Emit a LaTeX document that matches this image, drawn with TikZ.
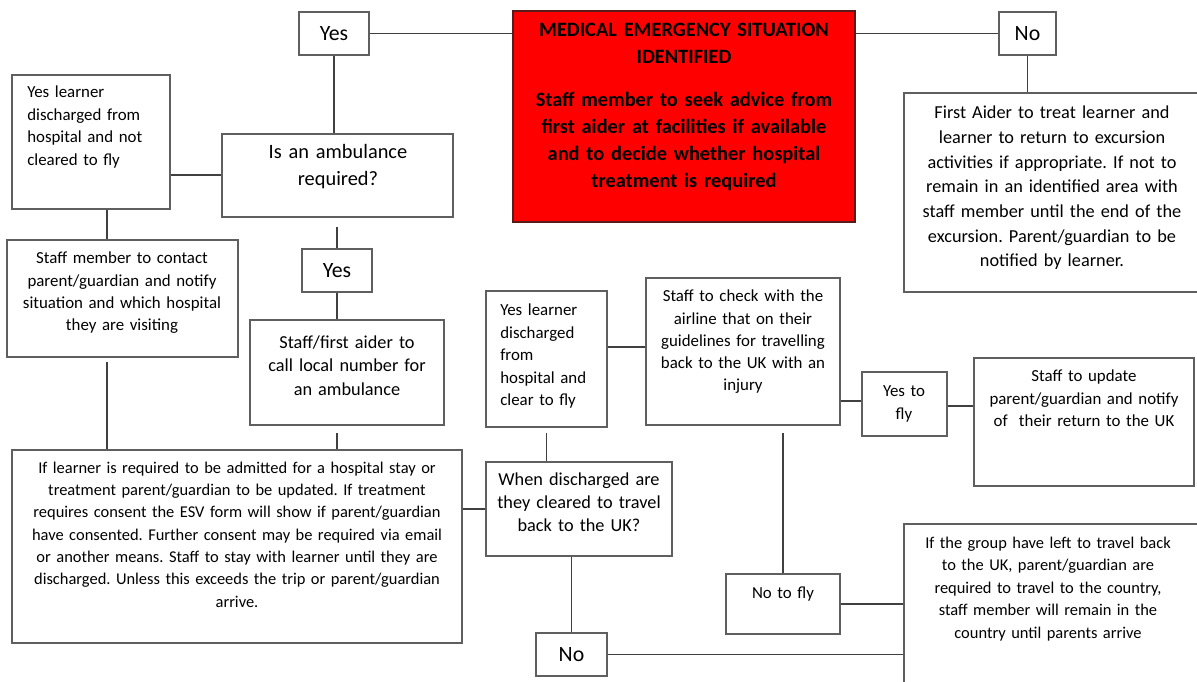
\documentclass[tikz,border=0pt]{standalone}
\usepackage{fontspec}
\setmainfont{Carlito}
\usetikzlibrary{fit}
\definecolor{boxgray}{HTML}{5F5F5F}
\definecolor{linegray}{HTML}{404040}
\definecolor{alertred}{HTML}{FF0000}
\definecolor{alertedge}{HTML}{5A1A1A}
\frenchspacing

\begin{document}
\begin{tikzpicture}[x=0.025cm, y=-0.025cm,
    box/.style={draw=boxgray, line width=1.4pt, inner sep=0pt},
    txt/.style={align=center, inner sep=0pt, anchor=base, font=\fontsize{12}{15.8}\selectfont},
    ltxt/.style={align=left, inner sep=0pt, anchor=base west, font=\fontsize{12}{16}\selectfont},
    word/.style={font=\fontsize{15.5}{18}\selectfont},
    link/.style={draw=linegray, line width=1.1pt}]
  \useasboundingbox (0,0) rectangle (1197,682);

  % top row
  \node[box, fit={(299,12) (369,55)}] (yes1) {};
  \node[word] (yes1-t) at (yes1.center) {Yes};
  \node[box, draw=alertedge, fill=alertred, fit={(513,11) (855,222)}] (emerg) {};
  \node[txt, text width=8.55cm, font=\bfseries\fontsize{14.5}{19.2}\selectfont] (emerg-t) at (684,37)
    {MEDICAL EMERGENCY SITUATION\\IDENTIFIED};
  \node[txt, text width=8.55cm, font=\bfseries\fontsize{14.5}{19.2}\selectfont] (emerg-b) at (684,107)
    {Staff member to seek advice from\\first aider at facilities if available\\and to decide whether hospital\\treatment is required};
  \node[box, fit={(999,12) (1056,55)}] (no1) {};
  \node[word] (no1-t) at (no1.center) {No};
  \node[box, fit={(904,93) (1202,292)}] (firstaid) {};
  \node[txt, text width=7.5cm, font=\fontsize{13}{17.5}\selectfont] (firstaid-t) at (1052,119)
    {First Aider to treat learner and\\learner to return to excursion\\activities if appropriate.  If not to\\remain in an identified area with\\staff member until the end of the\\excursion. Parent/guardian to be\\notified by learner.};

  % left column
  \node[box, fit={(12,75) (170,209)}] (notclr) {};
  \node[ltxt, text width=3.6cm, font=\fontsize{12}{15.9}\selectfont] (notclr-t) at (27,98)
    {Yes learner\\discharged from\\hospital and not\\cleared to fly};
  \node[box, fit={(222,134) (453,217)}] (ambul) {};
  \node[txt, text width=5.8cm, font=\fontsize{14.5}{19.2}\selectfont] (ambul-t) at (338,159)
    {Is an ambulance\\required?};
  \node[box, fit={(7,240) (238,357)}] (contact) {};
  \node[txt, text width=5.8cm] (contact-t) at (122,264)
    {Staff member to contact\\parent/guardian and notify\\situation and which hospital\\they are visiting};
  \node[box, fit={(302,249) (372,292)}] (yes2) {};
  \node[word] (yes2-t) at (yes2.center) {Yes};
  \node[box, fit={(250,320) (444,425)}] (call) {};
  \node[txt, text width=5cm, font=\fontsize{13}{16.8}\selectfont] (call-t) at (347,348)
    {Staff/first aider to\\call local number for\\an ambulance};
  \node[box, fit={(12,450) (462,643)}] (admit) {};
  \node[txt, text width=11.4cm, font=\fontsize{11.7}{15.9}\selectfont] (admit-t) at (237,473)
    {If learner is required to be admitted for a hospital stay or\\treatment parent/guardian to be updated. If treatment\\requires consent the ESV form will show if parent/guardian\\have consented.  Further consent may be required via email\\or another means. Staff to stay with learner until they are\\discharged. Unless this exceeds the trip or parent/guardian\\arrive.};

  % middle and right
  \node[box, fit={(486,291) (607,427)}] (clear) {};
  \node[ltxt, text width=2.6cm] (clear-t) at (500,316)
    {Yes learner\\discharged\\from\\hospital and\\clear to fly};
  \node[box, fit={(646,278) (840,425)}] (airline) {};
  \node[txt, text width=5cm] (airline-t) at (743,302)
    {Staff to check with the\\airline that on their\\guidelines for travelling\\back to the UK with an\\injury};
  \node[box, fit={(862,372) (947,436)}] (yesfly) {};
  \node[txt, text width=2.2cm, font=\fontsize{12}{17}\selectfont] (yesfly-t) at (904,396)
    {Yes to\\fly};
  \node[box, fit={(974,358) (1194,486)}] (update) {};
  \node[txt, text width=5.6cm] (update-t) at (1084,382)
    {Staff to update\\parent/guardian and notify\\of~~their return to the UK};
  \node[box, fit={(486,462) (672,556)}] (when) {};
  \node[txt, text width=4.8cm, font=\fontsize{13}{16.5}\selectfont] (when-t) at (579,485)
    {When discharged are\\they cleared to travel\\back to the UK?};
  \node[box, fit={(726,574) (840,634)}] (nofly) {};
  \node[txt, text width=2.9cm] (nofly-t) at (783,598) {No to fly};
  \node[box, fit={(904,524) (1202,700)}] (group) {};
  \node[txt, text width=7.5cm, font=\fontsize{11.7}{16}\selectfont] (group-t) at (1048,548)
    {If the group have left to travel back\\to the UK, parent/guardian are\\required to travel to the country,\\staff member will remain in the\\country until parents arrive};
  \node[box, fit={(536,633) (607,676)}] (nob) {};
  \node[word] (nob-t) at (nob.center) {No};

  % connectors
  \draw[link]
    (yes1.east) -- (yes1.east -| emerg.west)
    (no1.west -| emerg.east) -- (no1.west)
    (no1.south) -- (no1.south |- firstaid.north)
    (yes1.south) -- (yes1.south |- ambul.north)
    (notclr.east |- 0,175) -- (ambul.west |- 0,175)
    (yes2.south) -- (yes2.south |- call.north)
    (notclr.south -| 107,0) -- (contact.north -| 107,0)
    (admit.east |- 0,509) -- (when.west |- 0,509)
    (clear.east |- 0,347) -- (airline.west |- 0,347)
    (airline.east |- 0,401) -- (yesfly.west |- 0,401)
    (yesfly.east |- 0,406) -- (update.west |- 0,406)
    (nofly.east |- 0,604) -- (group.west |- 0,604)
    (nob.north) -- (nob.north |- when.south)
    (nob.east) -- (nob.east -| group.west);
  % lines that stop short of a box
  \draw[link, shorten >=0.22cm] (yes2.north) -- (yes2.north |- ambul.south);
  \draw[link, shorten <=0.1cm] (contact.south -| 107,0) -- (admit.north -| 107,0);
  \draw[link, shorten <=0.17cm] (call.south -| 337,0) -- (admit.north -| 337,0);
  \draw[link, shorten <=0.13cm] (clear.south) -- (clear.south |- when.north);
  \draw[link, shorten >=0.17cm] (nofly.north) -- (nofly.north |- airline.south);
\end{tikzpicture}
\end{document}
